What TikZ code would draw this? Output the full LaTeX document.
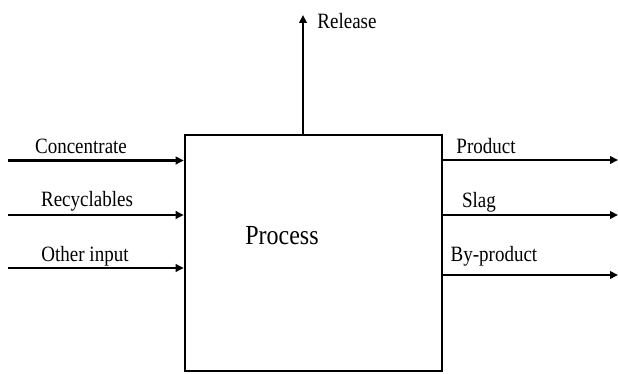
\documentclass[tikz,border=0pt]{standalone}
\usepackage{fontspec}
\setmainfont{Liberation Serif}
\usetikzlibrary{arrows.meta}
\begin{document}
\begin{tikzpicture}[x=1pt,y=1pt,
  flow/.style={line width=2.6pt,-{Triangle[length=8pt,width=7.5pt]}},
  lbl/.style={anchor=base,inner sep=0pt,font=\fontsize{19}{19}\selectfont},
  procbox/.style={draw,line width=2.6pt,minimum width=257pt,minimum height=236pt,inner sep=0pt}]
\useasboundingbox (0,0) rectangle (618,374);
\node[procbox] (box) at (313.5,121) {};
\node[lbl,font=\fontsize{24}{24}\selectfont] (proc) at (282,129) {\scalebox{1}[1.15]{Process}};
% inputs
\coordinate (i1) at (8,213.5);
\coordinate (i2) at (8,159);
\coordinate (i3) at (8,106);
\draw[flow] (i1) -- (box.west |- i1);
\draw[flow] (i2) -- (box.west |- i2);
\draw[flow] (i3) -- (box.west |- i3);
% outputs
\coordinate (o1) at (618,214);
\coordinate (o2) at (618,159);
\coordinate (o3) at (618,99);
\draw[flow] (box.east |- o1) -- (o1);
\draw[flow] (box.east |- o2) -- (o2);
\draw[flow] (box.east |- o3) -- (o3);
% release
\coordinate (rel) at (303,359);
\draw[flow] (box.north -| rel) -- (rel);
% labels
\node[lbl] (lc) at (81,220) {\scalebox{1}[1.15]{Concentrate}};
\node[lbl] (lr) at (87,167) {\scalebox{1}[1.15]{Recyclables}};
\node[lbl] (lo) at (85,112) {\scalebox{1}[1.15]{Other input}};
\node[lbl] (lp) at (486,220) {\scalebox{1}[1.15]{Product}};
\node[lbl] (ls) at (479,166) {\scalebox{1}[1.15]{Slag}};
\node[lbl] (lb) at (494,112) {\scalebox{1}[1.15]{By-product}};
\node[lbl] (lrel) at (347,345) {\scalebox{1}[1.15]{Release}};
\end{tikzpicture}
\end{document}
